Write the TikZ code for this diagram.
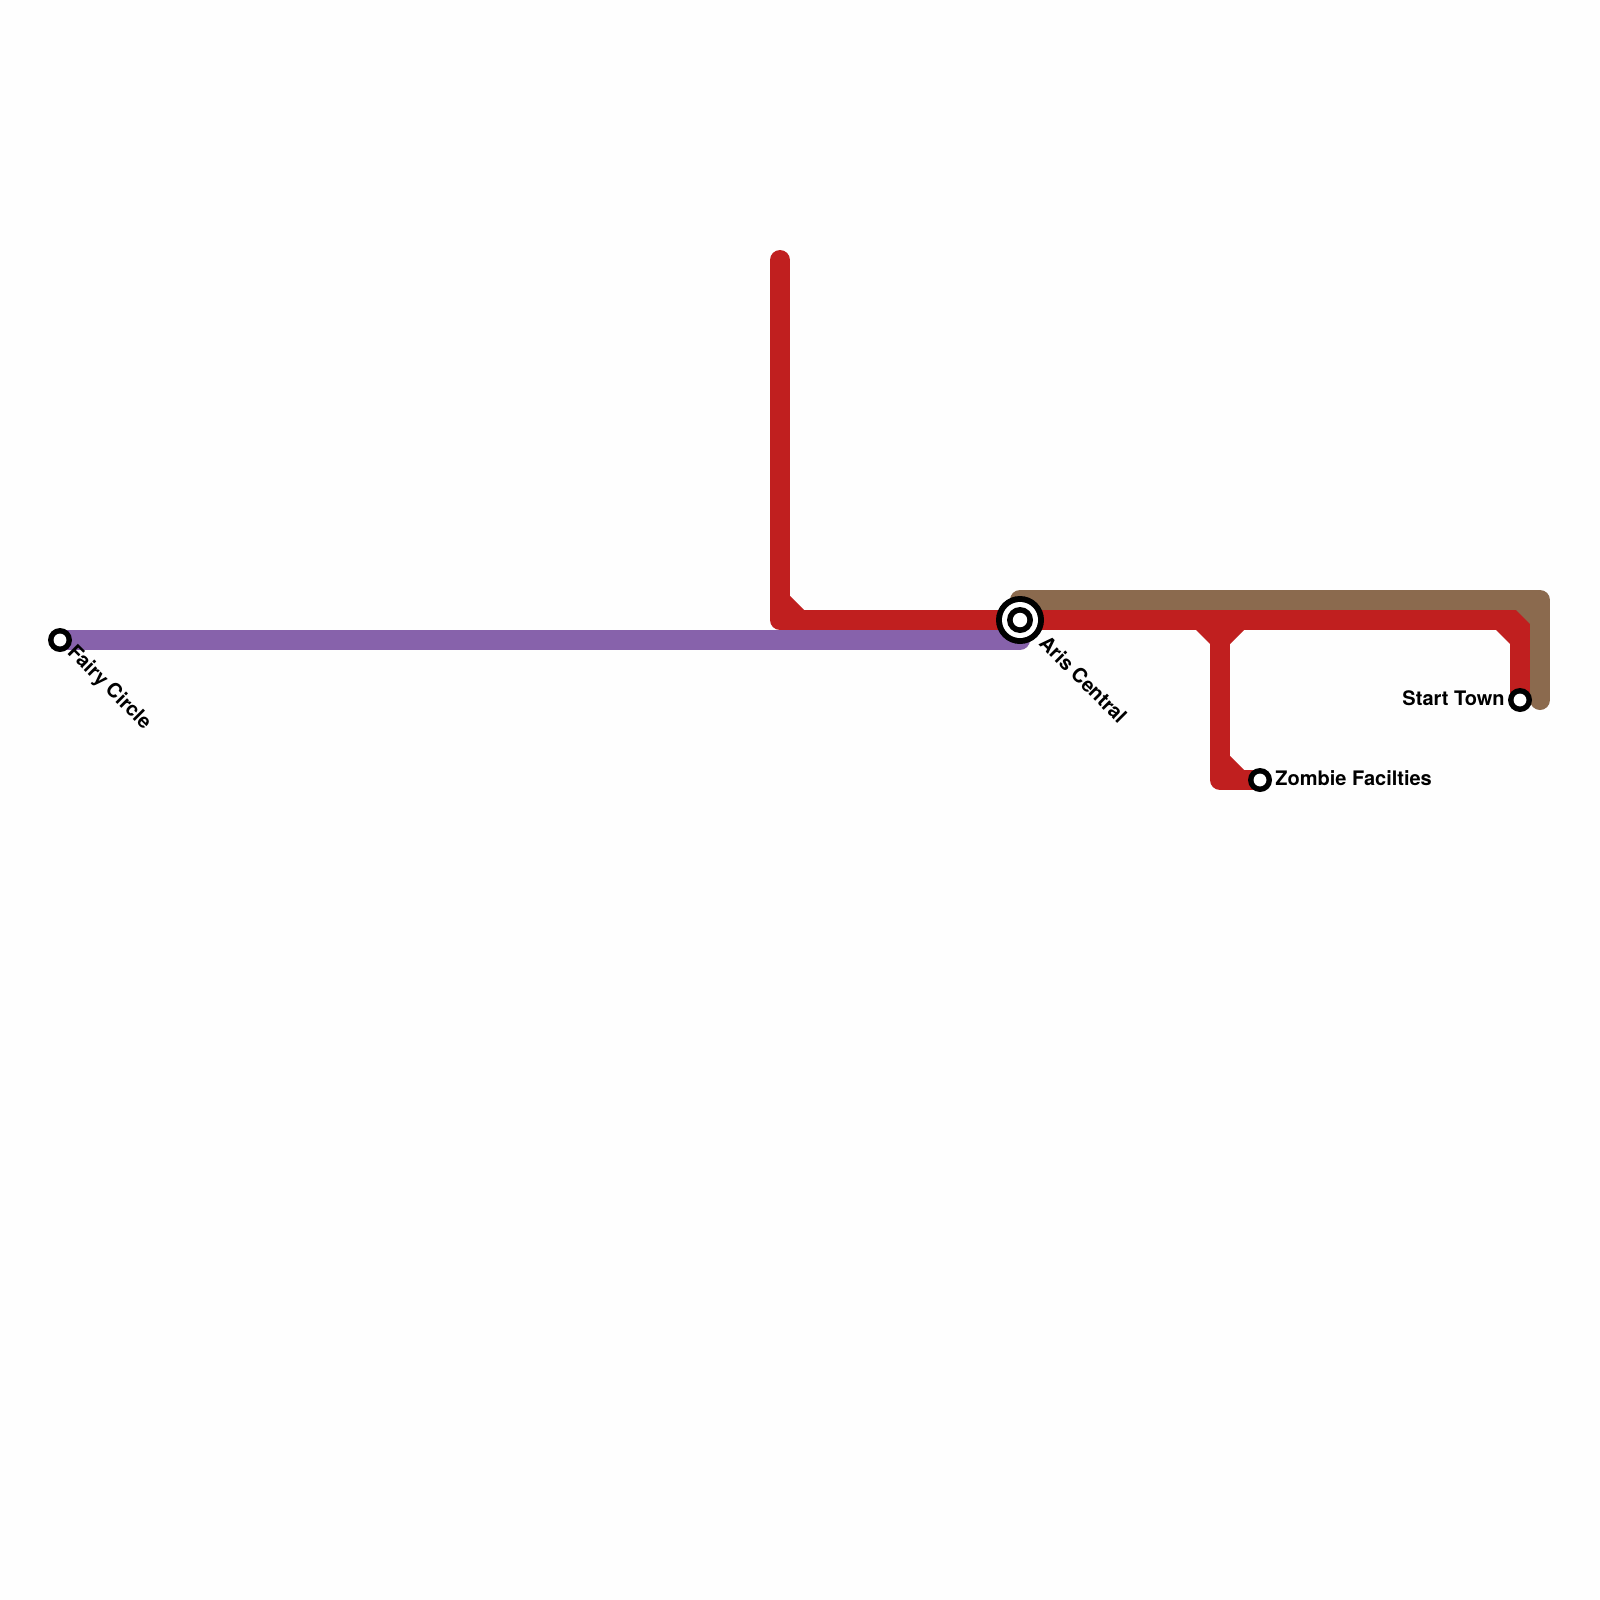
\documentclass[tikz,border=0pt]{standalone}
\usepackage{fontspec}
\setmainfont{TeX Gyre Heros}
\definecolor{redline}{HTML}{C01F1F}
\definecolor{brownline}{HTML}{8B6A4E}
\definecolor{purpleline}{HTML}{8762AB}
\definecolor{paper}{HTML}{FEFEFE}
\tikzset{
  metro/.style={line width=10pt,line join=round,line cap=round},
  stationsmall/.style={circle,fill=black,draw=none,minimum size=12pt,inner sep=0pt,outer sep=0pt,
    path picture={\fill[white] (path picture bounding box.center) circle[radius=3.2pt];}},
  stationbig/.style={circle,fill=black,draw=none,minimum size=24pt,inner sep=0pt,outer sep=0pt,
    path picture={
      \fill[white] (path picture bounding box.center) circle[radius=9pt];
      \fill[black] (path picture bounding box.center) circle[radius=6.5pt];
      \fill[white] (path picture bounding box.center) circle[radius=3.6pt];}},
  lbl/.style={font=\bfseries\fontsize{10pt}{12pt}\selectfont,text=black,inner sep=0pt},
}
\begin{document}
\begin{tikzpicture}[x=0.5pt,y=-0.5pt]
\useasboundingbox[fill=paper] (0,0) rectangle (1600,1600);
% stations
\coordinate (redtop) at (780,260);
\coordinate (redcorner) at (780,620);
\coordinate (redbranch) at (1220,620);
\coordinate (branchcorner) at (1220,780);
\coordinate (redright) at (1520,620);
\coordinate (brownstart) at (1020,600);
\coordinate (browncorner) at (1540,600);
\coordinate (brownend) at (1540,700);
\coordinate (fairypt) at (60,640);
\coordinate (arispt) at (1020,620);
\coordinate (purpleend) at (1020,640);
\coordinate (startpt) at (1520,700);
\coordinate (zombiept) at (1260,780);
% lines
\draw[metro,brownline] (brownstart) -- (browncorner) -- (brownend);
\draw[metro,purpleline] (fairypt) -- (purpleend);
\draw[metro,redline] (redtop) -- (redcorner) -- (arispt) -- (redright) -- (startpt);
\draw[metro,redline] (redbranch) -- (branchcorner) -- (zombiept);
% chamfers
\fill[redline] (790,596) -- (804,610) -- (790,610) -- cycle;
\fill[redline] (1196,630) -- (1210,644) -- (1230,644) -- (1244,630) -- cycle;
\fill[redline] (1230,756) -- (1244,770) -- (1230,770) -- cycle;
\fill[redline] (1496,630) -- (1510,644) -- (1510,630) -- cycle;
\fill[brownline] (1516,610) -- (1530,624) -- (1531,624) -- (1531,609) -- (1516,609) -- cycle;
% stations
\node[stationsmall] (fairy) at (fairypt) {};
\node[stationsmall] (start) at (startpt) {};
\node[stationsmall] (zombie) at (zombiept) {};
\node[stationbig] (aris) at (arispt) {};
% labels
\node[lbl,anchor=west,rotate=-45] (fairylabel) at (70,649) {Fairy Circle};
\node[lbl,anchor=west,rotate=-45] (arislabel) at (1043,639) {Aris Central};
\node[lbl,anchor=east] (startlabel) at (1505,698) {Start Town};
\node[lbl,anchor=west] (zombielabel) at (1275,778) {Zombie Facilties};
\end{tikzpicture}
\end{document}
